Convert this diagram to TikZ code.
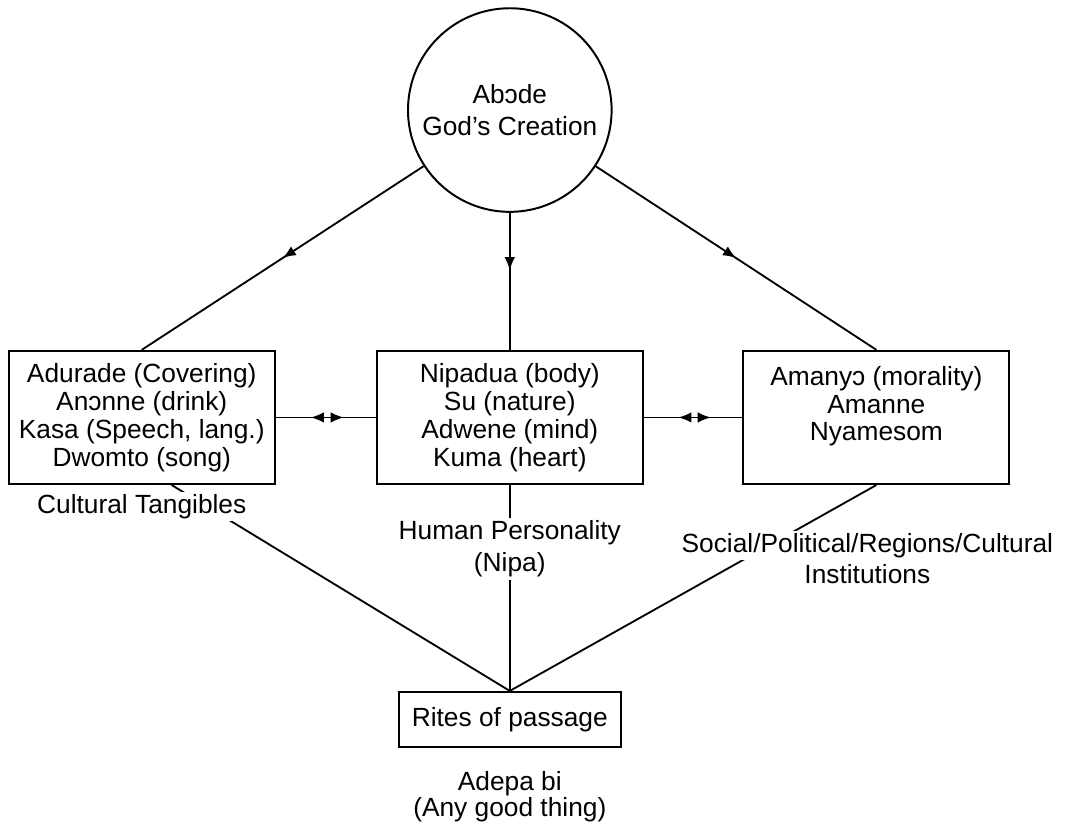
\documentclass[tikz,border=0pt]{standalone}
\usepackage{fontspec}
\setmainfont{Liberation Sans}
\usepackage{tikz}
\usetikzlibrary{arrows.meta,positioning,decorations.markings}

\newcommand{\boxfont}{\fontsize{10}{10.6}\selectfont}
\newcommand{\tagfont}{\fontsize{10}{12.3}\selectfont}

\begin{document}
\begin{tikzpicture}[
godcircle/.style={draw, circle, line width=0.75pt, align=center, minimum size=2.72cm, inner sep=0pt, font=\tagfont},
textbox/.style={draw, line width=0.75pt, align=center, minimum width=3.55cm, minimum height=1.78cm, font=\boxfont},
ritebox/.style={draw, line width=0.75pt, align=center, minimum width=2.97cm, minimum height=0.73cm, font=\boxfont},
lbl/.style={align=center, fill=white, inner sep=1pt, font=\tagfont},
link/.style={line width=0.7pt},
midarrow/.style={postaction={decorate}, decoration={markings, mark=at position #1 with {\arrow{Latex[length=5pt,width=4pt]}}}},
twoway/.style={postaction={decorate}, decoration={markings,
  mark=at position 0.35 with {\arrowreversed{Latex[length=5pt,width=4pt]}},
  mark=at position 0.68 with {\arrow{Latex[length=5pt,width=4pt]}}}}
]
\useasboundingbox (0,0) rectangle (14.24,-11.03);

\node[godcircle] (circ) at (6.81,-1.47) {\raisebox{-1mm}{\shortstack{Abɔde\\[1.5pt]God's Creation}}};
\node[textbox, below=1.83cm of circ] (mbox) {Nipadua (body)\\Su (nature)\\Adwene (mind)\\Kuma (heart)};
\node[textbox, left=1.34cm of mbox] (lbox) {Adurade (Covering)\\Anɔnne (drink)\\Kasa (Speech, lang.)\\Dwomto (song)};
\node[textbox, right=1.32cm of mbox] (rbox) {Amanyɔ (morality)\\Amanne\\Nyamesom\\\mbox{}};
\node[ritebox, below=2.75cm of mbox] (rites) {Rites of passage};
\node[align=center, font=\fontsize{10}{9.8}\selectfont, below=0.2cm of rites] (adepa) {Adepa bi\\(Any good thing)};

% from the creation down to the three groups
\draw[link, midarrow=0.5] (circ) -- (lbox.north);
\draw[link, midarrow=0.42] (circ) -- (mbox);
\draw[link, midarrow=0.5] (circ) -- (rbox.north);
\draw[link, twoway] (lbox) -- (mbox);
\draw[link, twoway] (mbox) -- (rbox);

% the three groups meet at the rites
\draw[link] ([xshift=4mm]lbox.south) -- (rites.north);
\draw[link] (mbox) -- (rites);
\draw[link] (rbox.south) -- (rites.north);

\node[lbl, below=0.08cm of lbox] (tang) {Cultural Tangibles};
\node[lbl, below=0.43cm of mbox] (pers) {Human Personality\\(Nipa)};
\node[lbl, below=0.6cm of rbox, xshift=-1.2mm] (soc) {Social/Political/Regions/Cultural};
\node[lbl, below=0pt of soc, fill=none] (inst) {Institutions};
\end{tikzpicture}
\end{document}
